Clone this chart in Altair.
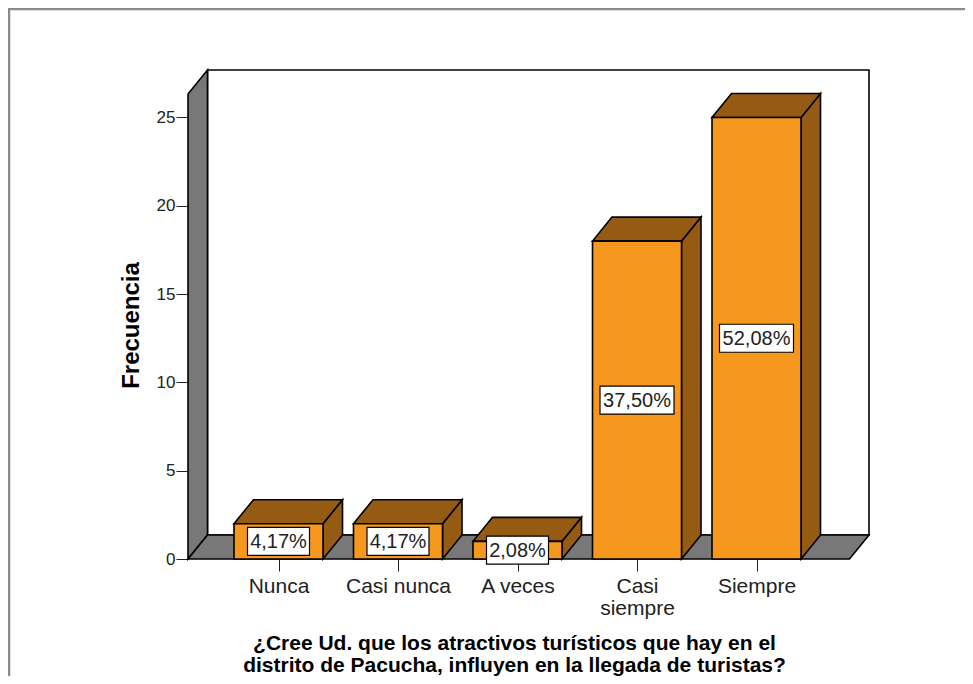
import altair as alt
import pandas as pd

# ---- data ----
categories = ["Nunca", "Casi nunca", "A veces", "Casi siempre", "Siempre"]
tick_labels = [["Nunca"], ["Casi nunca"], ["A veces"], ["Casi", "siempre"], ["Siempre"]]
frequencies = [2, 2, 1, 18, 25]
y_ticks = [0, 5, 10, 15, 20, 25]
x_title = ["¿Cree Ud. que los atractivos turísticos que hay en el",
           "distrito de Pacucha, influyen en la llegada de turistas?"]
y_title = "Frecuencia"

total = sum(frequencies)
pct_labels = [f"{f / total * 100:.2f}".replace(".", ",") + "%" for f in frequencies]

# ---- geometry (style constants) ----
W, H = 681, 489
PX_CAT = 119.5          # pixels per category step
PX_Y = 17.66            # pixels per frequency unit
X0 = -90.5 / PX_CAT
X1 = X0 + W / PX_CAT
Y1 = H / PX_Y
HW = 44.5 / PX_CAT      # half bar width
DX = 19.5 / PX_CAT      # depth x
DY = 24 / PX_Y          # depth y

ORANGE = "#F7981E"
BROWN = "#965B13"
GRAY = "#787878"
FONT = "Liberation Sans"

xs = alt.Scale(domain=[X0, X1], nice=False, zero=False)
ys = alt.Scale(domain=[0, Y1], nice=False, zero=False)

idx = list(range(len(categories)))
label_expr = "[" + ",".join(
    "[" + ",".join("'" + s + "'" for s in lab) + "]" for lab in tick_labels
) + "][datum.value]"

XAX = alt.Axis(values=idx, labelExpr=label_expr, tickSize=12, tickColor="#222",
               labelFontSize=21, labelColor="#222", labelPadding=4, labelLineHeight=22,
               labelFont=FONT, domain=False, grid=False, labelFlush=False,
               labelOverlap=False,
               title=x_title, titleFont=FONT, titleFontSize=21, titleFontWeight="bold",
               titleColor="black", titlePadding=14, titleLineHeight=22, titleX=326)
YAX = alt.Axis(values=y_ticks, tickSize=12, tickColor="#222", labelFontSize=17,
               labelColor="#222", labelPadding=1, labelFont=FONT, domain=False,
               grid=False, title=y_title, titleFont=FONT, titleFontSize=24,
               titleFontWeight="bold", titleColor="black", titlePadding=13, titleY=255)

# front faces / labels table
front = pd.DataFrame({
    "cat": categories,
    "c": idx,
    "v": frequencies,
    "pct": pct_labels,
})
front["xl"] = front["c"] - HW
front["xr"] = front["c"] + HW
front["mid"] = front["v"] / 2
bw = [(12 * len(p) + 2) / 2 / PX_CAT for p in pct_labels]
front["bx1"] = front["c"] - bw
front["bx2"] = front["c"] + bw
front["by1"] = front["mid"] - 14 / PX_Y
front["by2"] = front["mid"] + 14 / PX_Y

# side faces (vertical orient areas)
side_rows = []
for c, v, cat in zip(idx, frequencies, categories):
    side_rows.append({"cat": cat, "x": c + HW, "y": 0, "y2": v})
    side_rows.append({"cat": cat, "x": c + HW + DX, "y": DY, "y2": v + DY})
side = pd.DataFrame(side_rows)

# top faces (horizontal orient areas)
top_rows = []
for c, v, cat in zip(idx, frequencies, categories):
    top_rows.append({"cat": cat, "y": v, "x": c - HW, "x2": c + HW})
    top_rows.append({"cat": cat, "y": v + DY, "x": c - HW + DX, "x2": c + HW + DX})
top = pd.DataFrame(top_rows)

# walls
back = pd.DataFrame({"x": [X0 + DX], "x2": [X1], "y": [DY], "y2": [Y1]})
leftwall = pd.DataFrame({"k": ["w", "w"], "x": [X0, X0 + DX], "y": [0, DY], "y2": [Y1 - DY, Y1]})
floor = pd.DataFrame({"k": ["f", "f"], "y": [0, DY], "x": [X0, X0 + DX], "x2": [X1 - DX, X1]})

SW = 1.6

frame_l = alt.Chart(pd.DataFrame({"a": [0]})).mark_rule(color="#8a8a8a", strokeWidth=2.5).encode(
    x=alt.value(-179), y=alt.value(-62), y2=alt.value(700))
frame_t = alt.Chart(pd.DataFrame({"a": [0]})).mark_rule(color="#8a8a8a", strokeWidth=2.5).encode(
    x=alt.value(-180), x2=alt.value(900), y=alt.value(-61))

back_l = alt.Chart(back).mark_rect(fill="white", stroke="black", strokeWidth=SW).encode(
    x=alt.X("x:Q", scale=xs, axis=XAX), x2="x2:Q",
    y=alt.Y("y:Q", scale=ys, axis=YAX), y2="y2:Q")

left_l = alt.Chart(leftwall).mark_area(fill=GRAY, stroke="black", strokeWidth=SW, opacity=1).encode(
    x=alt.X("x:Q", scale=xs, axis=XAX),
    y=alt.Y("y:Q", scale=ys, axis=YAX), y2="y2:Q", detail="k:N")

floor_l = alt.Chart(floor).mark_area(orient="horizontal", fill=GRAY, stroke="black",
                                     strokeWidth=SW, opacity=1).encode(
    y=alt.Y("y:Q", scale=ys, axis=YAX),
    x=alt.X("x:Q", scale=xs, axis=XAX), x2="x2:Q", detail="k:N")

side_l = alt.Chart(side).mark_area(fill=BROWN, stroke="black", strokeWidth=SW, opacity=1).encode(
    x=alt.X("x:Q", scale=xs, axis=XAX),
    y=alt.Y("y:Q", scale=ys, axis=YAX), y2="y2:Q", detail="cat:N")

top_l = alt.Chart(top).mark_area(orient="horizontal", fill=BROWN, stroke="black",
                                 strokeWidth=SW, opacity=1).encode(
    y=alt.Y("y:Q", scale=ys, axis=YAX),
    x=alt.X("x:Q", scale=xs, axis=XAX), x2="x2:Q", detail="cat:N")

front_l = alt.Chart(front).mark_rect(fill=ORANGE, stroke="black", strokeWidth=SW).encode(
    x=alt.X("xl:Q", scale=xs, axis=XAX), x2="xr:Q",
    y=alt.Y("v:Q", scale=ys, axis=YAX), y2=alt.Y2(datum=0))

box_l = alt.Chart(front).mark_rect(fill="white", stroke="black", strokeWidth=1.2).encode(
    x=alt.X("bx1:Q", scale=xs, axis=XAX), x2="bx2:Q",
    y=alt.Y("by1:Q", scale=ys, axis=YAX), y2="by2:Q")

text_l = alt.Chart(front).mark_text(font=FONT, fontSize=20, color="#222", baseline="middle",
                                    align="center", dy=1).encode(
    x=alt.X("c:Q", scale=xs, axis=XAX),
    y=alt.Y("mid:Q", scale=ys, axis=YAX),
    text="pct:N")

chart = alt.layer(frame_l, frame_t, back_l, left_l, floor_l, side_l, top_l, front_l, box_l, text_l).properties(
    width=W, height=H,
    padding={"left": 180, "top": 62, "right": 96, "bottom": 117},
    autosize=alt.AutoSizeParams(type="none"),
).configure_view(stroke=None)

chart.save("out.html", embed_options={"renderer": "svg", "actions": False})
